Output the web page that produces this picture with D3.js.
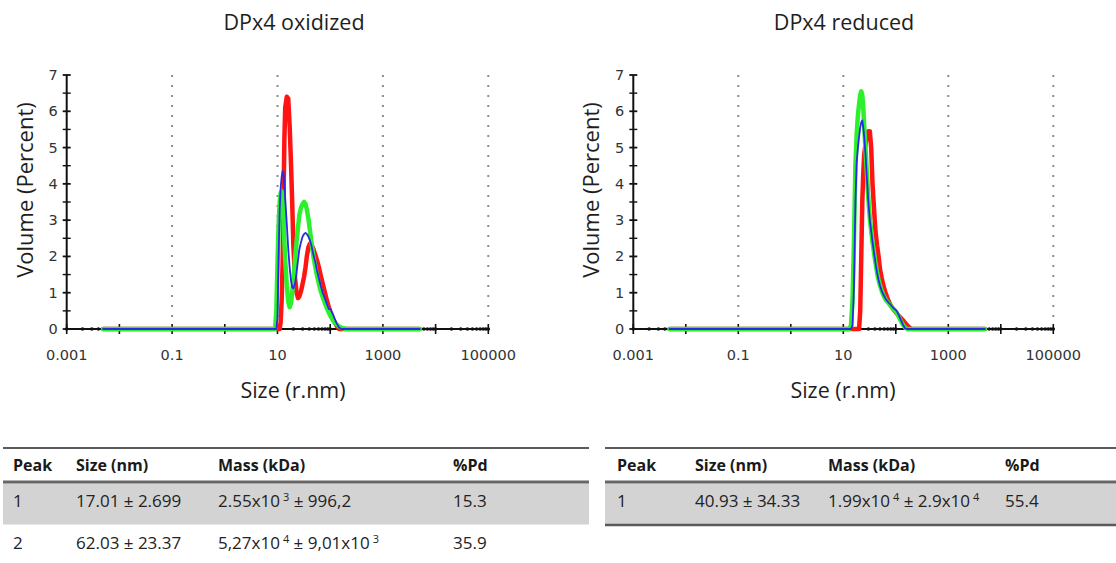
<!DOCTYPE html>
<html>
<head>
<meta charset="utf-8">
<script src="https://cdn.jsdelivr.net/npm/d3@7"></script>
<style>
  body { margin: 0; background: #fff; }
  svg { display: block; font-family: "Open Sans", sans-serif; }
</style>
</head>
<body>
<script>
(function() {

// ---- data ----
var titles = ["DPx4 oxidized", "DPx4 reduced"];
var xLabels = [0.001, 0.1, 10, 1000, 100000];
var yLabels = [0, 1, 2, 3, 4, 5, 6, 7];

// oxidized sample, size (r.nm) and volume % for three runs
var oxSize  = [0.0049, 9, 9.5, 10, 10.5, 11, 11.5, 12, 12.5, 13, 13.5, 14, 15, 16, 17, 18, 19, 20, 21.5, 23, 24.5, 26, 28, 30, 32, 34, 36, 38.5, 41, 44, 48, 52, 56, 61, 66, 72, 79, 86, 94, 102, 112, 122, 134, 147, 162, 180, 200, 5000];
var oxRed   = [0, 0, 0, 0, 0, 0, 0.2, 0.8, 1.8, 3.5, 5.2, 6.1, 6.4, 6.35, 5.6, 4.6, 3.5, 2.3, 1.4, 1.0, 0.85, 0.9, 1.05, 1.25, 1.45, 1.7, 2.0, 2.25, 2.35, 2.33, 2.2, 2.05, 1.9, 1.7, 1.48, 1.25, 1.02, 0.8, 0.6, 0.43, 0.3, 0.18, 0.08, 0, 0, 0, 0, 0];
var oxGreen = [0, 0, 0.5, 1.8, 2.9, 3.5, 3.75, 3.8, 3.6, 3.0, 2.4, 1.9, 1.2, 0.75, 0.6, 0.7, 1.0, 1.35, 1.9, 2.4, 2.8, 3.15, 3.35, 3.45, 3.5, 3.45, 3.3, 3.05, 2.75, 2.4, 2.0, 1.72, 1.48, 1.25, 1.05, 0.88, 0.72, 0.58, 0.45, 0.35, 0.25, 0.17, 0.12, 0.07, 0.04, 0.02, 0, 0];
var oxBlue  = [0, 0, 0, 0.3, 2.0, 3.3, 3.9, 4.2, 4.35, 4.3, 4.0, 3.6, 2.9, 2.2, 1.7, 1.35, 1.15, 1.12, 1.25, 1.55, 1.9, 2.2, 2.4, 2.55, 2.62, 2.65, 2.62, 2.55, 2.45, 2.3, 2.05, 1.85, 1.62, 1.4, 1.2, 1.0, 0.85, 0.7, 0.55, 0.55, 0.42, 0.28, 0.14, 0.04, 0, 0, 0, 0];

// reduced sample
var rdSize  = [0.0049, 13, 14, 15, 16, 17, 18, 19, 20, 21, 22, 23, 24, 25, 26.5, 28, 30, 32, 34, 36, 38.5, 41, 44, 47, 50, 54, 58, 63, 68, 74, 80, 87, 95, 104, 114, 125, 137, 150, 165, 180, 200, 5000];
var rdRed   = [0, 0, 0, 0, 0, 0, 0, 0, 0, 0.5, 2.0, 3.5, 4.3, 4.8, 5.1, 5.3, 5.45, 5.45, 5.0, 4.0, 3.3, 2.7, 2.3, 2.0, 1.65, 1.4, 1.2, 1.02, 0.88, 0.75, 0.65, 0.57, 0.5, 0.43, 0.36, 0.3, 0.24, 0.17, 0.1, 0.05, 0, 0];
var rdGreen = [0, 0, 0.1, 0.8, 2.5, 4.5, 5.4, 5.9, 6.2, 6.45, 6.55, 6.45, 6.1, 5.6, 4.95, 4.35, 3.6, 3.05, 2.7, 2.4, 2.1, 1.82, 1.55, 1.35, 1.2, 1.05, 0.93, 0.83, 0.76, 0.7, 0.64, 0.58, 0.52, 0.45, 0.34, 0.22, 0.12, 0.04, 0, 0, 0, 0];
var rdBlue  = [0, 0, 0, 0.1, 1.2, 3.5, 4.6, 5.0, 5.3, 5.55, 5.7, 5.75, 5.55, 5.3, 4.8, 4.2, 3.5, 3.0, 2.7, 2.4, 2.1, 1.82, 1.55, 1.35, 1.2, 1.05, 0.95, 0.85, 0.78, 0.72, 0.67, 0.6, 0.55, 0.5, 0.38, 0.25, 0.12, 0.02, 0, 0, 0, 0];

// tables
var tableHead = ["Peak", "Size (nm)", "Mass (kDa)", "%Pd"];
var oxPeak = ["1", "2"];
var oxSizeNm = ["17.01 \u00b1 2.699", "62.03 \u00b1 23.37"];
var oxMass = [[["2.55x10", ""], ["3", "sup"], [" \u00b1 996,2", ""]],
              [["5,27x10", ""], ["4", "sup"], [" \u00b1 9,01x10", ""], ["3", "sup"]]];
var oxPd = ["15.3", "35.9"];
var rdPeak = ["1"];
var rdSizeNm = ["40.93 \u00b1 34.33"];
var rdMass = [[["1.99x10", ""], ["4", "sup"], [" \u00b1 2.9x10", ""], ["4", "sup"]]];
var rdPd = ["55.4"];

var width = 1116, height = 563;

var svg = d3.select("body").append("svg")
  .attr("width", width)
  .attr("height", height);

function chart(left, right, title, titleX, sizes, runs) {
  var x = d3.scaleLog().domain([0.001, 100000]).range([left, right]),
      y = d3.scaleLinear().domain([0, 7]).range([329, 75]),
      g = svg.append("g");

  g.append("text")
    .attr("x", titleX).attr("y", 30)
    .attr("text-anchor", "middle")
    .attr("fill", "#1e1e1e")
    .style("font-size", "21.5px")
    .text(title);

  // dotted grid at labelled decades
  g.selectAll("line.grid")
    .data(xLabels.slice(1))
    .enter().append("line")
      .attr("class", "grid")
      .attr("x1", function(d) { return x(d); })
      .attr("x2", function(d) { return x(d); })
      .attr("y1", y(7)).attr("y2", y(0) - 4)
      .attr("stroke", "#8c8c8c")
      .attr("stroke-width", 2)
      .attr("stroke-dasharray", "2,8");

  // x axis: line, minor dots, decade ticks
  g.append("line")
    .attr("x1", x(0.001)).attr("x2", x(100000))
    .attr("y1", y(0)).attr("y2", y(0))
    .attr("stroke", "#111").attr("stroke-width", 2);

  g.selectAll("circle.minor")
    .data(x.ticks())
    .enter().append("circle")
      .attr("cx", function(d) { return x(d); })
      .attr("cy", y(0))
      .attr("r", 1.8)
      .attr("fill", "#111");

  g.selectAll("line.xmaj")
    .data(x.ticks().filter(function(d) { return Math.abs(Math.log10(d) % 1) < 1e-9; }))
    .enter().append("line")
      .attr("x1", function(d) { return x(d); })
      .attr("x2", function(d) { return x(d); })
      .attr("y1", y(0) - 5).attr("y2", y(0) + 5)
      .attr("stroke", "#111").attr("stroke-width", 1.6);

  g.selectAll("text.xlab")
    .data(xLabels)
    .enter().append("text")
      .attr("x", function(d) { return x(d); })
      .attr("y", 360)
      .attr("text-anchor", "middle")
      .attr("fill", "#333")
      .style("font-family", "'DejaVu Sans', sans-serif")
      .style("font-size", "14.5px")
      .text(function(d) { return d < 1 ? String(d) : d3.format("d")(d); });

  // y axis
  g.append("line")
    .attr("x1", left).attr("x2", left)
    .attr("y1", y(0)).attr("y2", y(7))
    .attr("stroke", "#111").attr("stroke-width", 2);

  g.selectAll("line.ytick")
    .data(d3.range(0, 7.01, 0.5))
    .enter().append("line")
      .attr("x1", left - 4).attr("x2", left + 4)
      .attr("y1", function(d) { return y(d); })
      .attr("y2", function(d) { return y(d); })
      .attr("stroke", "#111")
      .attr("stroke-width", function(d) { return d % 1 === 0 ? 1.8 : 1.4; });

  g.selectAll("text.ylab")
    .data(yLabels)
    .enter().append("text")
      .attr("x", left - 9)
      .attr("y", function(d) { return y(d) + 5; })
      .attr("text-anchor", "end")
      .attr("fill", "#333")
      .style("font-family", "'DejaVu Sans', sans-serif")
      .style("font-size", "14.5px")
      .text(function(d) { return d; });

  // runs: red, green, blue (blue on top)
  var line = d3.line()
    .x(function(d) { return x(d[0]); })
    .y(function(d) { return y(d[1]); });

  runs.forEach(function(r) {
    g.append("path")
      .datum(sizes.map(function(s, i) { return [s, r.values[i]]; }))
      .attr("d", line)
      .attr("fill", "none")
      .attr("stroke", r.color)
      .attr("stroke-width", r.w)
      .attr("stroke-linejoin", "round")
      .attr("stroke-linecap", "round");
  });

  g.append("text")
    .attr("x", titleX - 1).attr("y", 398)
    .attr("text-anchor", "middle")
    .attr("fill", "#1e1e1e")
    .style("font-size", "21.5px")
    .text("Size (r.nm)");

  g.append("text")
    .attr("transform", "translate(" + (left - 34) + ",190) rotate(-90)")
    .attr("text-anchor", "middle")
    .attr("fill", "#1e1e1e")
    .style("font-size", "22px")
    .text("Volume (Percent)");
}

chart(66.7, 488.3, titles[0], 294, oxSize, [
  {values: oxRed,   color: "#ff1414", w: 4.5},
  {values: oxGreen, color: "#2cf02c", w: 4.5},
  {values: oxBlue,  color: "#2a2ae6", w: 1.8}
]);

chart(633.3, 1053.3, titles[1], 844, rdSize, [
  {values: rdRed,   color: "#ff1414", w: 4.5},
  {values: rdGreen, color: "#2cf02c", w: 4.5},
  {values: rdBlue,  color: "#2a2ae6", w: 1.8}
]);

// ---- tables ----
function table(x0, x1, cols, peaks, sizesNm, masses, pds, bottomLine) {
  var g = svg.append("g"),
      rowY = [507, 549];

  g.append("rect")
    .attr("x", x0).attr("y", 483.5)
    .attr("width", x1 - x0).attr("height", 41)
    .attr("fill", "#d3d3d3");

  g.append("line")
    .attr("x1", x0).attr("x2", x1).attr("y1", 448).attr("y2", 448)
    .attr("stroke", "#5a5a5a").attr("stroke-width", 2);
  g.append("line")
    .attr("x1", x0).attr("x2", x1).attr("y1", 482).attr("y2", 482)
    .attr("stroke", "#666").attr("stroke-width", 3);
  if (bottomLine)
    g.append("line")
      .attr("x1", x0).attr("x2", x1).attr("y1", 525).attr("y2", 525)
      .attr("stroke", "#5a5a5a").attr("stroke-width", 2.5);

  g.selectAll("text.head")
    .data(tableHead)
    .enter().append("text")
      .attr("x", function(d, i) { return cols[i]; })
      .attr("y", 471)
      .attr("fill", "#1a1a1a")
      .style("font-weight", "bold")
      .style("font-size", "16px")
      .text(function(d) { return d; });

  peaks.forEach(function(p, i) {
    var t = function(cx, s) {
      return g.append("text")
        .attr("x", cx).attr("y", rowY[i])
        .attr("fill", "#222")
        .style("font-size", "17px")
        .text(s);
    };
    t(cols[0], p);
    t(cols[1], sizesNm[i]);
    t(cols[3], pds[i]);

    var m = g.append("text")
          .attr("x", cols[2]).attr("y", rowY[i])
          .attr("fill", "#222")
          .style("font-size", "17px"),
        raised = false;
    masses[i].forEach(function(part) {
      if (part[1] === "sup") {
        m.append("tspan").attr("dx", 3).attr("dy", -6)
          .style("font-size", "11px").text(part[0]);
        raised = true;
      } else {
        m.append("tspan").attr("dy", raised ? 6 : 0).text(part[0]);
        raised = false;
      }
    });
  });
}

table(3, 589, [13, 76, 218, 453], oxPeak, oxSizeNm, oxMass, oxPd, false);
table(605, 1116, [617, 695, 828, 1005], rdPeak, rdSizeNm, rdMass, rdPd, true);

})();
</script>
</body>
</html>
